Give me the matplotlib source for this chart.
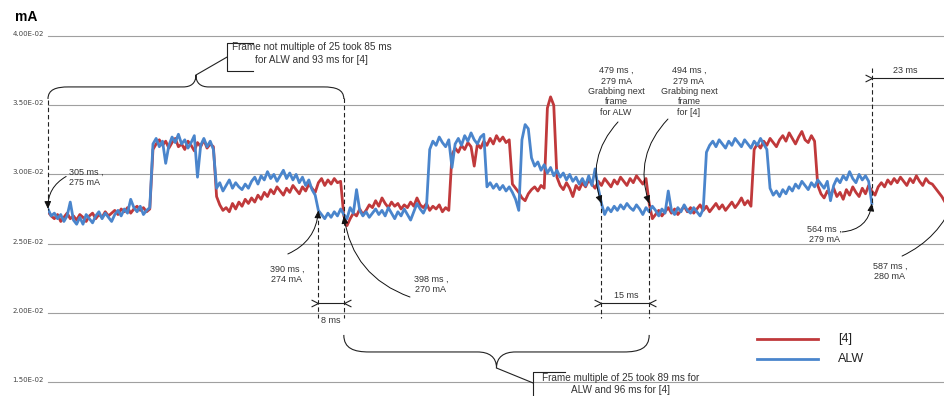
import matplotlib
matplotlib.use('Agg')
import matplotlib.pyplot as plt
import numpy as np
from matplotlib.path import Path
from matplotlib.patches import PathPatch

# supply current sampled every 1 ms, values in 1e-4 A (shown as "mA" in the notes)
red_4 = [273, 270, 268, 271, 266, 269, 272, 268, 270, 267, 271, 269, 266, 270, 272, 268, 271, 269, 273, 270,
         272, 274, 271, 275, 273, 276, 272, 275, 277, 274, 276, 273, 275,
         318, 322, 325, 321, 324, 319, 323, 326, 320, 322, 318, 324, 321, 317, 323, 320, 325, 319, 322, 320,
         284, 278, 274, 276, 273, 279, 275, 280, 277, 282, 279, 283, 280, 285, 282, 287, 284, 289, 286, 291,
         288, 285, 290, 287, 292, 289, 286, 291, 288, 293, 290, 287,
         294, 297, 292, 296, 293, 297, 294, 295,
         270, 263, 268, 272, 270, 275, 271, 274, 278, 276, 281, 277, 283, 279, 276, 280, 277, 279, 275, 278,
         276, 280, 277, 283, 278, 276, 279, 274, 277, 275, 278, 273, 276, 274,
         314, 319, 316, 321, 318, 323, 320, 306, 322, 319, 324, 321, 326, 322, 328, 324, 327, 323, 325,
         293, 290, 287, 283, 281, 286, 289, 291, 288, 292, 290,
         348, 356, 350,
         298, 292, 289, 294, 290, 284, 292, 289, 294, 291, 296, 293, 290, 295, 292, 297, 294, 291, 296, 293,
         298, 295, 292, 297, 294, 299, 296, 293, 297,
         279, 268, 271, 274, 270, 273, 276, 272, 275, 271, 274, 277, 273, 276, 272, 275, 278, 274, 277, 273,
         276, 279, 275, 278, 274, 277, 280, 276, 279, 283, 278, 281, 277,
         318, 322, 319, 324, 321, 326, 323, 320, 325, 328, 324, 330, 326, 322, 327, 331, 325, 323, 328, 324,
         292, 286, 283, 288, 285, 290, 284, 287, 282, 289, 285, 291, 287, 284, 290, 286, 292, 288, 285, 291,
         294, 291, 296, 293, 297, 294, 298, 295, 292, 297, 294, 299, 295, 292, 297, 294, 293, 290, 287, 284,
         280]

alw = [275, 270, 272, 268, 271, 266, 270, 280, 267, 264, 269, 264, 271, 268, 265, 270, 273, 268, 272, 269,
       266, 271, 274, 270, 275, 272, 282, 276, 273, 277, 271, 274, 276,
       322, 326, 320, 324, 308, 321, 327, 323, 329, 322, 325, 319, 323, 328, 298, 321, 326, 320, 324, 318,
       290, 294, 288, 292, 296, 290, 294, 291, 289, 293, 290, 295, 298, 293, 299, 296, 302, 297, 300, 295,
       299, 303, 297, 301, 296, 300, 294, 298, 292, 296, 289, 285,
       274, 271, 268, 272, 269, 273, 270, 275, 271, 268, 276, 272, 289, 274, 270, 273, 269, 272, 275, 271,
       274, 270, 276, 272, 268, 273, 270, 275, 271, 267, 273, 279, 275, 272, 277,
       318, 324, 321, 327, 323, 320, 325, 305, 322, 326, 321, 328, 324, 330, 325, 322, 327, 329,
       291, 294, 290, 293, 289, 292, 288, 291, 287, 282, 274,
       325, 336, 333,
       312, 306, 309, 303, 307, 301, 305, 299, 303, 298, 301, 296, 300, 295, 298, 293, 297, 292, 299, 292,
       304, 290,
       279, 271, 276, 273, 277, 274, 278, 275, 279, 276, 274, 278, 275, 271, 276, 273, 277, 274, 270, 275,
       272, 288, 274, 271, 276, 273, 278, 274, 272, 276, 273, 270, 275,
       316, 321, 324, 320, 325, 322, 319, 324, 321, 326, 323, 320, 325, 322, 319, 324, 321, 326, 322, 318,
       290, 285, 288, 284, 289, 286, 291, 288, 293, 290, 295, 292, 289, 294, 291, 296, 293, 290, 295, 281,
       292, 297, 294, 299, 296, 302, 297, 294, 300, 296, 299, 295, 279]

t_red = np.arange(305, 305 + len(red_4))
t_alw = np.arange(305, 305 + len(alw))
y_ticks = [150, 200, 250, 300, 350, 400]

RED = '#c0393b'
BLUE = '#4a85cc'
INK = '#222222'
TXT = '#333333'

plt.rcParams['font.family'] = ['Liberation Sans', 'DejaVu Sans']

fig = plt.figure(figsize=(9.45, 3.96), dpi=100)
ax = fig.add_axes([48 / 945, 1 - 382 / 396, 897 / 945, 346 / 396])

ax.plot(t_red, red_4, color=RED, lw=2, solid_joinstyle='round')
ax.plot(t_alw, alw, color=BLUE, lw=2, solid_joinstyle='round')

ax.set_xlim(305, 587)
ax.set_ylim(150, 400)
ax.set_xticks([])
ax.set_yticks(y_ticks)
ax.set_yticklabels([f'{v * 1e-4:.2E}' for v in y_ticks], fontsize=5, family='DejaVu Sans',
                   color='#444444', va='baseline')
ax.tick_params(axis='y', length=0, pad=3)
ax.yaxis.grid(True, color='#a0a0a0', lw=0.8)
for gl in ax.get_ygridlines():
    gl.set_clip_on(False)
ax.set_axisbelow(True)
for s in ax.spines.values():
    s.set_visible(False)

fig.text(15 / 945, 1 - 17 / 396, 'mA', fontsize=10, fontweight='bold', va='center', ha='left')


def brace(x0, x1, y_end, y_bar, y_tip, w_end, w_tip):
    xm = (x0 + x1) / 2
    verts = [(x0, y_end),
             (x0, y_end + (y_bar - y_end) * 0.8), (x0 + w_end * 0.4, y_bar), (x0 + w_end, y_bar),
             (xm - w_tip, y_bar),
             (xm - w_tip * 0.4, y_bar), (xm, y_bar + (y_tip - y_bar) * 0.3), (xm, y_tip),
             (xm, y_bar + (y_tip - y_bar) * 0.3), (xm + w_tip * 0.4, y_bar), (xm + w_tip, y_bar),
             (x1 - w_end, y_bar),
             (x1 - w_end * 0.4, y_bar), (x1, y_end + (y_bar - y_end) * 0.8), (x1, y_end)]
    codes = [Path.MOVETO] + [Path.CURVE4] * 3 + [Path.LINETO] + [Path.CURVE4] * 6 + \
            [Path.LINETO] + [Path.CURVE4] * 3
    ax.add_patch(PathPatch(Path(verts, codes), fill=False, ec=INK, lw=0.8, clip_on=False))
    return xm, y_tip


def line(xs, ys, **kw):
    ax.plot(xs, ys, color=INK, lw=0.8, clip_on=False, **kw)


def dashed(x, y0, y1):
    line([x, x], [y0, y1], ls=(0, (4, 2.5)))


right_chev = [(-1, 0.5), (0, 0), (-1, -0.5)]
left_chev = [(1, 0.5), (0, 0), (1, -0.5)]


def dimension(x0, x1, y, label, tx, ty):
    line([x0, x1], [y, y])
    ax.plot([x0], [y], marker=right_chev, ms=10, mfc='none', mec=INK, mew=0.8, clip_on=False)
    if x1 < 587:
        ax.plot([x1], [y], marker=left_chev, ms=10, mfc='none', mec=INK, mew=0.8, clip_on=False)
    ax.text(tx, ty, label, fontsize=6.5, color=TXT, ha='center', va='center')


def callout(text, txy, start, tip, rad, ha='center'):
    ax.text(txy[0], txy[1], text, fontsize=6.5, color=TXT, ha=ha, va='center', linespacing=1.2)
    ax.annotate('', xy=tip, xytext=start, annotation_clip=False,
                arrowprops=dict(arrowstyle='-|>,head_length=0.45,head_width=0.2',
                                connectionstyle=f'arc3,rad={rad}', color='#111111', lw=0.7,
                                shrinkA=0, shrinkB=0, mutation_scale=10))


# frame spans
tx, ty = brace(305, 398, 354.5, 363.2, 371.8, 6.5, 4)
line([tx, 361.3], [ty, 384.8])
line([369.4, 361.3, 361.3, 369.4], [394.9, 394.9, 374.7, 374.7])
ax.text(387.8, 387.4, 'Frame not multiple of 25 took 85 ms\nfor ALW and 93 ms for [4]',
        fontsize=7.2, color=TXT, ha='center', va='center', linespacing=1.3)

tx, ty = brace(398, 494, 184.0, 171.7, 160.1, 8, 6)
line([tx, 457.5], [ty, 149.3])
line([467.5, 457.5, 457.5], [157.2, 157.2, 139.0])
ax.text(485.0, 148.6, 'Frame multiple of 25 took 89 ms for\nALW and 96 ms for [4]',
        fontsize=7.2, color=TXT, ha='center', va='center', linespacing=1.3, clip_on=False)

# markers of frame boundaries
dashed(305, 353.8, 274.3)
dashed(390, 272, 196.2)
dashed(398, 355.2, 196.2)
dashed(479, 281, 196.2)
dashed(494, 281, 196.2)
dashed(564, 376.9, 274)

dimension(390, 398, 207.1, '8 ms', 394, 194.1)
dimension(479, 494, 207.1, '15 ms', 486.7, 212.6)
dimension(564, 590, 369.7, '23 ms', 574.4, 375.4)

callout('305 ms ,\n275 mA', (311.7, 298.1), (310.7, 298.5), (305, 275), 0.3, ha='left')
callout('390 ms ,\n274 mA', (380.1, 227.7), (380.4, 242.5), (390, 274), 0.3)
callout('398 ms ,\n270 mA', (425.4, 220.5), (418.8, 211.4), (398, 270), -0.3)
callout('479 ms ,\n279 mA\nGrabbing next\nframe\nfor ALW', (483.6, 359.9), (484.2, 337.9), (479, 279), 0.3)
callout('494 ms ,\n279 mA\nGrabbing next\nframe\nfor [4]', (506.5, 359.9), (499.9, 340.0), (494, 279), 0.3)
callout('564 ms ,\n279 mA', (549.0, 256.6), (554.6, 258.4), (564, 279), 0.4)
callout('587 ms ,\n280 mA', (569.7, 229.8), (573.5, 241.0), (590, 282), 0.2)

# legend
ax.plot([527.9, 547.1], [181.1, 181.1], color=RED, lw=2)
ax.plot([527.9, 547.1], [166.6, 166.6], color=BLUE, lw=2)
ax.text(553.4, 181.1, '[4]', fontsize=9, color=INK, va='center')
ax.text(553.4, 166.6, 'ALW', fontsize=9, color=INK, va='center')

fig.savefig('out.png', dpi=100)
